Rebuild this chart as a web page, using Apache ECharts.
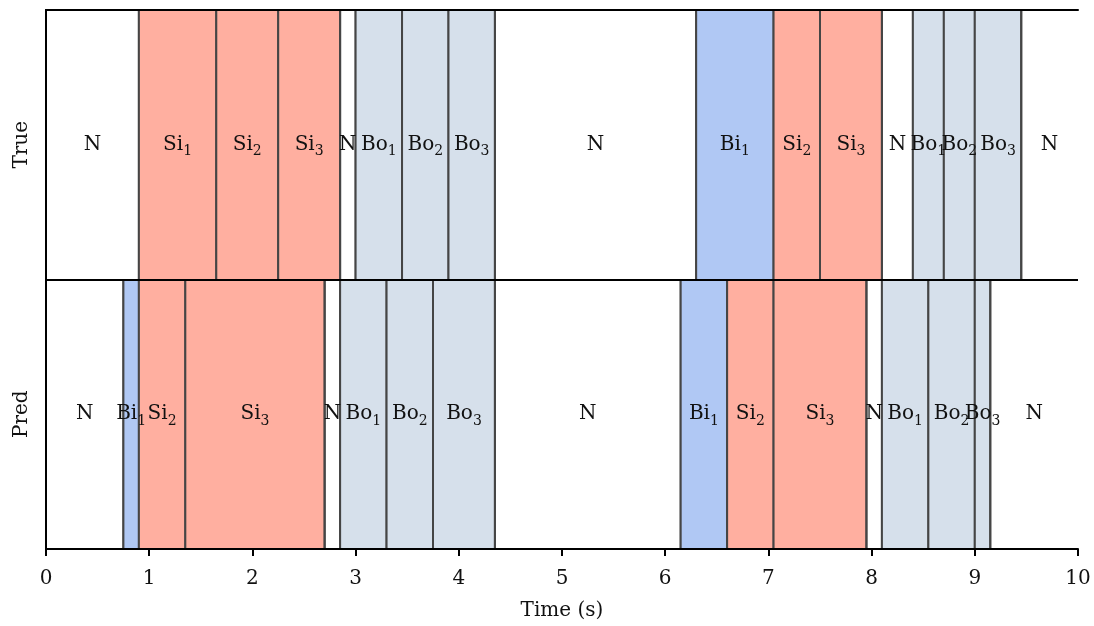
<!DOCTYPE html>
<html>
<head>
<meta charset="utf-8">
<script src="https://cdn.jsdelivr.net/npm/echarts@6/dist/echarts.min.js"></script>
<style>html,body{margin:0;padding:0;background:#fff}#c{width:1094px;height:626px}</style>
</head>
<body>
<div id="c"></div>
<script>
const rows = ['Pred', 'True'];
const xTicks = [0, 1, 2, 3, 4, 5, 6, 7, 8, 9, 10];
const trueLabels = ['N','Si1','Si2','Si3','N','Bo1','Bo2','Bo3','N','Bi1','Si2','Si3','N','Bo1','Bo2','Bo3','N'];
const trueBounds = [0,0.9,1.65,2.25,2.85,3.0,3.45,3.9,4.35,6.3,7.05,7.5,8.1,8.4,8.7,9.0,9.45,10];
const predLabels = ['N','Bi1','Si2','Si3','N','Bo1','Bo2','Bo3','N','Bi1','Si2','Si3','N','Bo1','Bo2','Bo3','N'];
const predBounds = [0,0.75,0.9,1.35,2.7,2.85,3.3,3.75,4.35,6.15,6.6,7.05,7.95,8.1,8.55,9.0,9.15,10];

const FONT = '"DejaVu Serif", "Liberation Serif", serif';
const colors = { N: 'rgba(255,255,255,0)', Si: '#ffafa0', Bi: '#b0c8f4', Bo: '#d6e0eb' };

function makeData(bounds, row) {
  const d = [];
  for (let i = 0; i < bounds.length - 1; i++) d.push([bounds[i], bounds[i + 1], row]);
  return d;
}

function makeRender(labels) {
  return function (params, api) {
    const s = api.value(0), e = api.value(1), r = api.value(2);
    const p0 = api.coord([s, r]);
    const p1 = api.coord([e, r]);
    const h = api.size([0, 1])[1];
    const top = p0[1] - h / 2;
    const lab = labels[params.dataIndex];
    const m = lab.match(/^([A-Za-z]+)(\d*)$/);
    const base = m[1], sub = m[2];
    const children = [{
      type: 'rect',
      shape: { x: p0[0], y: top, width: p1[0] - p0[0], height: h },
      style: { fill: colors[base] || '#fff' }
    }];
    if (s > 0) children.push({ type: 'line', shape: { x1: p0[0], y1: top, x2: p0[0], y2: top + h }, style: { stroke: '#454545', lineWidth: 2 } });
    if (e < 10) children.push({ type: 'line', shape: { x1: p1[0], y1: top, x2: p1[0], y2: top + h }, style: { stroke: '#454545', lineWidth: 2 } });
    children.push({
      type: 'text',
      z2: 10,
      style: {
        x: (p0[0] + p1[0]) / 2, y: p0[1],
        text: sub ? '{b|' + base + '}{s|' + sub + '}' : '{b|' + base + '}',
        align: 'center', verticalAlign: 'middle',
        rich: {
          b: { fontSize: 20, fontFamily: FONT, fill: '#111', lineHeight: 28 },
          s: { fontSize: 14, fontFamily: FONT, fill: '#111', lineHeight: 14, verticalAlign: 'bottom' }
        }
      }
    });
    return { type: 'group', children: children };
  };
}

const chart = echarts.init(document.getElementById('c'));
chart.setOption({
  animation: false,
  backgroundColor: '#fff',
  grid: { left: 46, right: 16, top: 10, bottom: 77 },
  xAxis: [{
    type: 'value', min: 0, max: 10, interval: 1,
    name: 'Time (s)', nameLocation: 'middle', nameGap: 52,
    nameTextStyle: { fontSize: 20, fontFamily: FONT, color: '#111' },
    axisLine: { show: true, lineStyle: { color: '#000', width: 2 } },
    axisTick: { show: true, length: 7, lineStyle: { color: '#000', width: 2 } },
    axisLabel: { fontSize: 20, fontFamily: FONT, color: '#111', margin: 20 },
    splitLine: { show: false },
    z: 10
  }, {
    type: 'value', min: 0, max: 10, position: 'top',
    axisLine: { show: true, lineStyle: { color: '#000', width: 2 } },
    axisTick: { show: false }, axisLabel: { show: false }, splitLine: { show: false },
    z: 10
  }],
  yAxis: [{
    type: 'category', data: rows,
    axisLine: { show: true, lineStyle: { color: '#000', width: 2 } },
    axisTick: { show: false },
    axisLabel: { rotate: 90, fontSize: 20, fontFamily: FONT, color: '#111', margin: 14 },
    splitLine: { show: true, interval: 0, lineStyle: { color: '#000', width: 2 } },
    z: 10
  }, {
    type: 'category', data: rows, position: 'right',
    axisLine: { show: true, lineStyle: { color: '#000', width: 2 } },
    axisTick: { show: false }, axisLabel: { show: false }, splitLine: { show: false },
    z: 10
  }],
  series: [{
    type: 'custom', name: 'True', renderItem: makeRender(trueLabels),
    encode: { x: [0, 1], y: 2 }, data: makeData(trueBounds, 1), clip: true
  }, {
    type: 'custom', name: 'Pred', renderItem: makeRender(predLabels),
    encode: { x: [0, 1], y: 2 }, data: makeData(predBounds, 0), clip: true
  }]
});
</script>
</body>
</html>
